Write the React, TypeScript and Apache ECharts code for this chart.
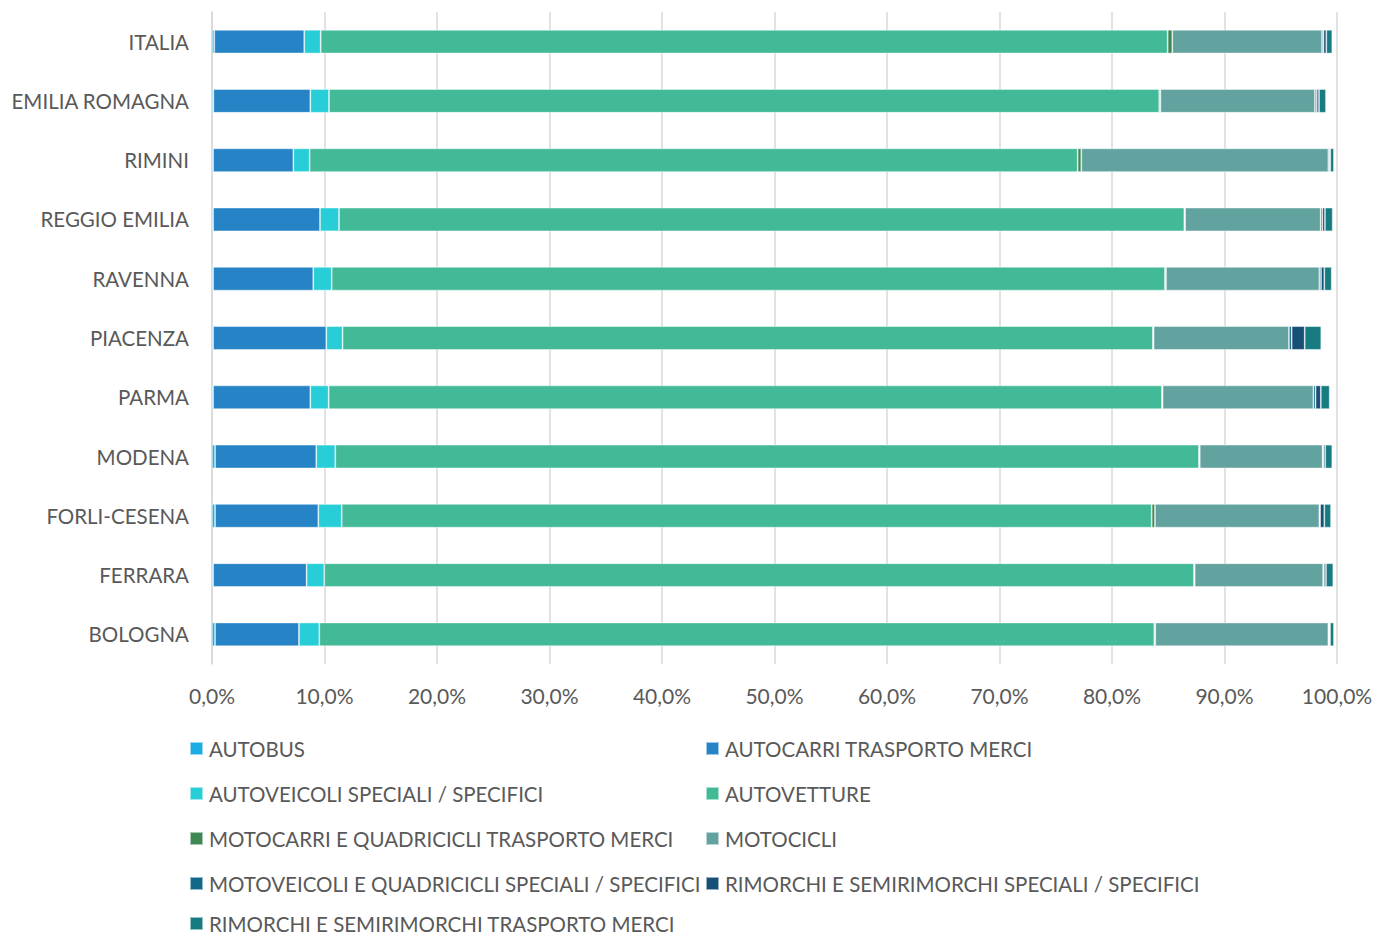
import React, { useEffect, useRef } from "react";
import * as echarts from "echarts";

const categories = [
  "ITALIA",
  "EMILIA ROMAGNA",
  "RIMINI",
  "REGGIO EMILIA",
  "RAVENNA",
  "PIACENZA",
  "PARMA",
  "MODENA",
  "FORLI-CESENA",
  "FERRARA",
  "BOLOGNA",
];

const seriesNames = [
  "AUTOBUS",
  "AUTOCARRI TRASPORTO MERCI",
  "AUTOVEICOLI SPECIALI / SPECIFICI",
  "AUTOVETTURE",
  "MOTOCARRI E QUADRICICLI TRASPORTO MERCI",
  "MOTOCICLI",
  "MOTOVEICOLI E QUADRICICLI SPECIALI / SPECIFICI",
  "RIMORCHI E SEMIRIMORCHI SPECIALI / SPECIFICI",
  "RIMORCHI E SEMIRIMORCHI TRASPORTO MERCI",
];

const autobus = [0.2, 0.12, 0.1, 0.1, 0.1, 0.1, 0.1, 0.27, 0.27, 0.1, 0.27];
const autocarri = [8.0, 8.62, 7.13, 9.5, 8.9, 10.06, 8.64, 9.0, 9.18, 8.31, 7.46];
const autoveicoliSpeciali = [1.46, 1.66, 1.45, 1.69, 1.64, 1.45, 1.63, 1.69, 2.08, 1.57, 1.81];
const autovetture = [75.29, 73.8, 68.27, 75.14, 74.07, 72.03, 74.07, 76.77, 72.0, 77.31, 74.22];
const motocarri = [0.41, 0.1, 0.32, 0.07, 0.09, 0.06, 0.06, 0.07, 0.29, 0.06, 0.09];
const motocicli = [13.31, 13.74, 21.96, 12.05, 13.63, 12.03, 13.4, 10.92, 14.61, 11.42, 15.38];
const motoveicoliSpeciali = [0.13, 0.16, 0.12, 0.15, 0.15, 0.24, 0.2, 0.08, 0.07, 0.07, 0.07];
const rimorchiSpeciali = [0.25, 0.2, 0.05, 0.23, 0.29, 1.16, 0.46, 0.15, 0.37, 0.18, 0.08];
const rimorchiTrasporto = [0.53, 0.62, 0.33, 0.69, 0.66, 1.47, 0.79, 0.63, 0.6, 0.65, 0.35];

const seriesValues = [
  autobus,
  autocarri,
  autoveicoliSpeciali,
  autovetture,
  motocarri,
  motocicli,
  motoveicoliSpeciali,
  rimorchiSpeciali,
  rimorchiTrasporto,
];

const colors = [
  "#1CADE4",
  "#2683C6",
  "#27CED7",
  "#42BA97",
  "#3E8853",
  "#62A39F",
  "#116888",
  "#174F77",
  "#177C81",
];

const FONT = "Lato, 'Open Sans', sans-serif";
const TEXT = "#595959";

export default function App() {
  const ref = useRef<HTMLDivElement>(null);

  useEffect(() => {
    if (!ref.current) return;
    const chart = echarts.init(ref.current, undefined, { renderer: "svg" });

    const rowsY = [748, 793, 838, 883, 923];
    const legends = seriesNames.map((name, i) => ({
      show: true,
      data: [name],
      left: i % 2 === 0 ? 189 : 705,
      top: rowsY[Math.floor(i / 2)] - 10,
      orient: "horizontal",
      icon: "rect",
      itemWidth: 13,
      itemHeight: 13,
      padding: 0,
      selectedMode: false,
      textStyle: {
        fontFamily: FONT,
        fontSize: 20.5,
        lineHeight: 20,
        color: TEXT,
        padding: [0, 0, 0, 1],
      },
    }));

    chart.setOption({
      animation: false,
      backgroundColor: "#ffffff",
      color: colors,
      grid: {
        left: 212,
        right: 52,
        top: 12,
        bottom: 273,
        containLabel: false,
      },
      legend: legends,
      xAxis: {
        type: "value",
        min: 0,
        max: 100,
        interval: 10,
        axisLine: { show: false },
        axisTick: { show: false },
        splitLine: { show: true, lineStyle: { color: "#D9D9D9", width: 1.5 } },
        axisLabel: {
          fontFamily: FONT,
          fontSize: 21,
          color: TEXT,
          margin: 21,
          formatter: (v: number) => v.toFixed(1).replace(".", ",") + "%",
        },
      },
      yAxis: {
        type: "category",
        data: categories,
        inverse: true,
        axisLine: { show: true, lineStyle: { color: "#D9D9D9", width: 1.5 } },
        axisTick: { show: false },
        axisLabel: {
          fontFamily: FONT,
          fontSize: 20.5,
          color: TEXT,
          margin: 23,
        },
      },
      series: seriesNames.map((name, i) => ({
        name,
        type: "bar",
        stack: "total",
        barWidth: "40%",
        data: seriesValues[i],
        itemStyle: {
          color: colors[i],
          borderColor: "rgba(255,255,255,0.55)",
          borderWidth: 0.8,
        },
        emphasis: { disabled: true },
      })),
    });

    return () => chart.dispose();
  }, []);

  return (
    <div
      ref={ref}
      style={{ position: "absolute", left: 0, top: 0, width: 1389, height: 937 }}
    />
  );
}
